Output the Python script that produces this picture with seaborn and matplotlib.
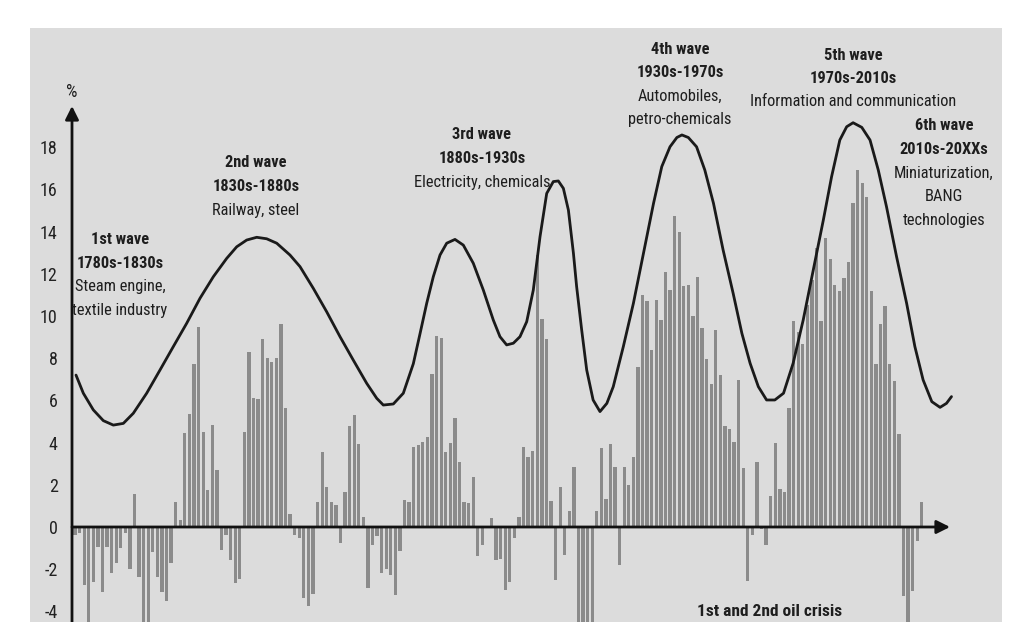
import os
import numpy as np
import pandas as pd
import matplotlib
matplotlib.use("Agg")
import matplotlib.pyplot as plt
import matplotlib.font_manager as fm
import seaborn as sns

# ---------------- data ----------------
growth = [
    -0.4, -0.3, -2.75, -5, -2.6, -0.93, -3.1, -0.93, -2.2, -1.7,
    -1.0, -0.3, -2.0, 1.56, -2.35, -5, -5, -1.2, -2.35, -3.07,
    -3.5, -1.7, 1.2, 0.35, 4.45, 5.34, 7.74, 9.48, 4.5, 1.74,
    4.82, 2.72, -1.1, -0.4, -1.58, -2.65, -2.45, 4.5, 8.3, 6.13,
    6.05, 8.93, 8.0, 7.82, 8.0, 9.6, 5.65, 0.63, -0.36, -0.52,
    -3.36, -3.76, -3.16, 1.18, 3.54, 1.88, 1.18, 1.03, -0.76, 1.66,
    4.8, 5.32, 3.95, 0.46, -2.9, -0.84, -0.41, -2.18, -2.0, -2.26,
    -3.2, -1.15, 1.3, 1.17, 3.78, 3.9, 4.04, 4.28, 7.27, 9.07,
    8.94, 3.55, 3.98, 5.17, 3.06, 1.18, 1.12, 2.37, -1.36, -0.84,
    0.0, 0.41, -1.58, -1.5, -2.97, -2.6, -0.52, 0.47, 3.78, 3.3,
    3.62, 12.87, 9.87, 8.93, 1.25, -2.5, 1.88, -1.31, 0.77, 2.86,
    -5, -5, -5, -5, 0.77, 3.74, 1.33, 3.95, 2.83, -1.79,
    2.83, 1.97, 3.32, 7.57, 11.0, 10.7, 8.37, 10.76, 9.8, 12.07,
    11.25, 14.72, 13.97, 11.44, 11.48, 9.98, 11.85, 9.43, 7.96, 6.78,
    9.35, 7.19, 4.77, 4.63, 4.04, 6.97, 2.78, -2.56, -0.38, 3.08,
    -0.1, -0.87, 1.47, 3.97, 1.82, 1.66, 5.62, 9.76, 9.26, 8.69,
    10.5, 11.69, 13.24, 9.76, 13.7, 12.72, 11.47, 11.2, 11.82, 12.57,
    15.37, 16.9, 16.29, 15.66, 11.18, 7.71, 9.6, 10.47, 7.71, 6.92,
    4.42, -3.27, -5, -3.03, -0.66, 1.2,
]
bar_pos = list(range(len(growth)))

# long-wave curve (x in bar-slot units, y in %)
wave_x = [0.22, 1.82, 4.0, 6.19, 8.37, 10.56, 12.74, 15.66, 18.57, 21.48, 24.39, 27.31,
          30.22, 33.14, 35.33, 37.51, 39.7, 41.88, 44.07, 46.97, 49.16, 52.07, 54.99,
          57.9, 60.8, 63.73, 65.92, 67.36, 69.55, 71.73, 73.92, 75.38, 76.84, 78.28,
          79.75, 81.21, 83.02, 84.84, 87.02, 89.21, 91.39, 92.85, 94.31, 95.77, 97.22,
          98.69, 100.13, 101.6, 103.06, 104.5, 105.6, 106.7, 107.8, 108.9, 109.6,
          110.7, 111.8, 113.2, 114.7, 116.2, 117.6, 119.8, 122.0, 124.2, 126.4, 128.2,
          130.0, 131.5, 132.6, 134.0, 135.8, 137.6, 139.5, 141.6, 143.8, 145.7, 147.5,
          149.3, 151.1, 152.9, 154.8, 156.9, 159.1, 161.3, 163.5, 165.3, 167.1, 168.6,
          170.0, 171.9, 173.7, 175.5, 177.3, 179.5, 181.7, 183.5, 185.3, 187.2, 189.0,
          190.4, 191.5]
wave_y = [7.20, 6.34, 5.55, 5.04, 4.83, 4.91, 5.39, 6.34, 7.44, 8.55, 9.65, 10.84,
          11.86, 12.73, 13.28, 13.60, 13.73, 13.66, 13.45, 12.89, 12.34, 11.31, 10.20,
          9.02, 7.91, 6.81, 6.10, 5.78, 5.83, 6.34, 7.74, 9.16, 10.6, 11.86,
          12.89, 13.45, 13.63, 13.36, 12.5, 11.23, 9.81, 9.02, 8.63, 8.71, 9.02,
          9.73, 11.23, 13.76, 15.81, 16.37, 16.4, 16.05, 15.02, 12.97, 11.39,
          9.34, 7.44, 6.02, 5.47, 5.86, 6.65, 8.55, 10.6, 12.97, 15.34, 17.08,
          18.02, 18.46, 18.58, 18.46, 18.02, 16.92, 15.34, 13.13, 11.07, 9.18, 7.76,
          6.65, 6.02, 6.02, 6.34, 7.76, 9.81, 12.18, 14.55, 16.6, 18.34, 18.97,
          19.16, 18.94, 18.34, 16.92, 15.18, 12.81, 10.6, 8.55, 6.97, 5.94, 5.67,
          5.86, 6.18]

ytick_values = [-4, -2, 0, 2, 4, 6, 8, 10, 12, 14, 16, 18]
ytick_labels = [str(v) for v in ytick_values]

wave_titles = ["1st wave", "2nd wave", "3rd wave", "4th wave", "5th wave", "6th wave"]
wave_periods = ["1780s-1830s", "1830s-1880s", "1880s-1930s", "1930s-1970s",
                "1970s-2010s", "2010s-20XXs"]
wave_techs = [["Steam engine,", "textile industry"], ["Railway, steel"],
              ["Electricity, chemicals"], ["Automobiles,", "petro-chemicals"],
              ["Information and communication"], ["Miniaturization,", "BANG", "technologies"]]
oil_label = "1st and 2nd oil crisis"
unit_label = "%"

# ---------------- fonts: look for a condensed sans face ----------------
def _wt(f):
    w = f.weight
    try:
        return int(w)
    except Exception:
        s = str(w).lower()
        return 700 if "bold" in s else 400

def find_condensed(bold):
    prefs = ["liberation sans narrow", "roboto condensed", "open sans condensed",
             "noto sans condensed", "dejavu sans condensed"]
    best, best_rank = None, 99
    for f in fm.fontManager.ttflist:
        base = os.path.basename(f.fname).lower()
        name = f.name.lower()
        if not ("condensed" in base or "narrow" in base or "condensed" in name or "narrow" in name):
            continue
        if any(k in base for k in ("italic", "oblique", "semicondensed", "extracondensed",
                                   "ultracondensed", "mono", "serif", "light", "thin",
                                   "medium", "black", "semibold", "extrabold")):
            continue
        w = _wt(f)
        if bold and w != 700:
            continue
        if not bold and w != 400:
            continue
        rank = 50
        for k, p in enumerate(prefs):
            if p.replace(" ", "") in (name + base).replace(" ", "").replace("_", "").replace("-", ""):
                rank = k
                break
        if rank < best_rank:
            best, best_rank = f.fname, rank
    return best

reg_path = find_condensed(False)
bold_path = find_condensed(True)
CONDENSED = reg_path is not None and bold_path is not None

def fp(bold=False, size=11.8):
    if CONDENSED:
        return fm.FontProperties(fname=bold_path if bold else reg_path, size=size)
    return fm.FontProperties(family="Roboto", weight="bold" if bold else "normal",
                             size=size * 0.78)

# ---------------- figure ----------------
W, H = 1024, 622
sns.set_theme(style="white")
fig = plt.figure(figsize=(W / 100, H / 100), dpi=100)
fig.patch.set_facecolor("white")

PITCH = 4.577   # px per bar slot
X0 = 75.0       # px of slot 0
Y0 = 527.0      # px of 0 %
UNIT = 21.1     # px per 1 %

left, right, top = 30, 1002, 28
ax = fig.add_axes([left / W, 0, (right - left) / W, (H - top) / H])
ax.set_facecolor("#dcdcdc")

sns.barplot(x=bar_pos, y=growth, native_scale=True, color="#8b8b8b", width=0.72,
            saturation=1, edgecolor="none", ax=ax, zorder=2)
sns.lineplot(x=wave_x, y=wave_y, color="#1a1a1a", linewidth=2.0, ax=ax, zorder=3)
for ln in ax.get_lines():
    ln.set_solid_joinstyle("round")
    ln.set_solid_capstyle("round")

ax.set_xlim((left - X0) / PITCH, (right - X0) / PITCH)
ax.set_ylim((Y0 - H) / UNIT, (Y0 - top) / UNIT)
for s in ax.spines.values():
    s.set_visible(False)
ax.set_xticks([])
ax.set_xlabel("")
ax.set_ylabel("")
ax.set_yticks(ytick_values)
ax.set_yticklabels(ytick_labels)
ax.tick_params(axis="y", length=0, pad=-20.0)
for lbl in ax.get_yticklabels():
    lbl.set_fontproperties(fp(False, 13) if CONDENSED else
                           fm.FontProperties(family="Roboto", size=11))
    lbl.set_color("#222222")

# axis arrows
xa = (72 - X0) / PITCH
ax.annotate("", xy=(xa, (Y0 - 106) / UNIT), xytext=(xa, (Y0 - H) / UNIT),
            arrowprops=dict(arrowstyle="-|>", color="#111111", lw=2, mutation_scale=20,
                            shrinkA=0, shrinkB=0), zorder=4)
ax.annotate("", xy=((950 - X0) / PITCH, 0), xytext=(xa, 0),
            arrowprops=dict(arrowstyle="-|>", color="#111111", lw=2, mutation_scale=20,
                            shrinkA=0, shrinkB=0), zorder=4)

# ---------------- annotations ----------------
def put(txt, x, y, bold=False, size=11.8):
    fig.text(x / W, 1 - y / H, txt, ha="center", va="center", color="#1e1e1e",
             fontproperties=fp(bold, size))

title_pos = [(120, 240), (256, 163), (482, 135), (680, 49), (853, 55), (944, 126)]
LS = 23.5
for t, p, techs, (x, y) in zip(wave_titles, wave_periods, wave_techs, title_pos):
    put(t, x, y, True)
    put(p, x, y + LS, True)
    for k, line in enumerate(techs):
        put(line, x, y + LS * (2 + k))

put(oil_label, 770, 611, True, 12.5)
put(unit_label, 72, 92, False, 13)

fig.savefig("out.png", dpi=100, facecolor="white")
